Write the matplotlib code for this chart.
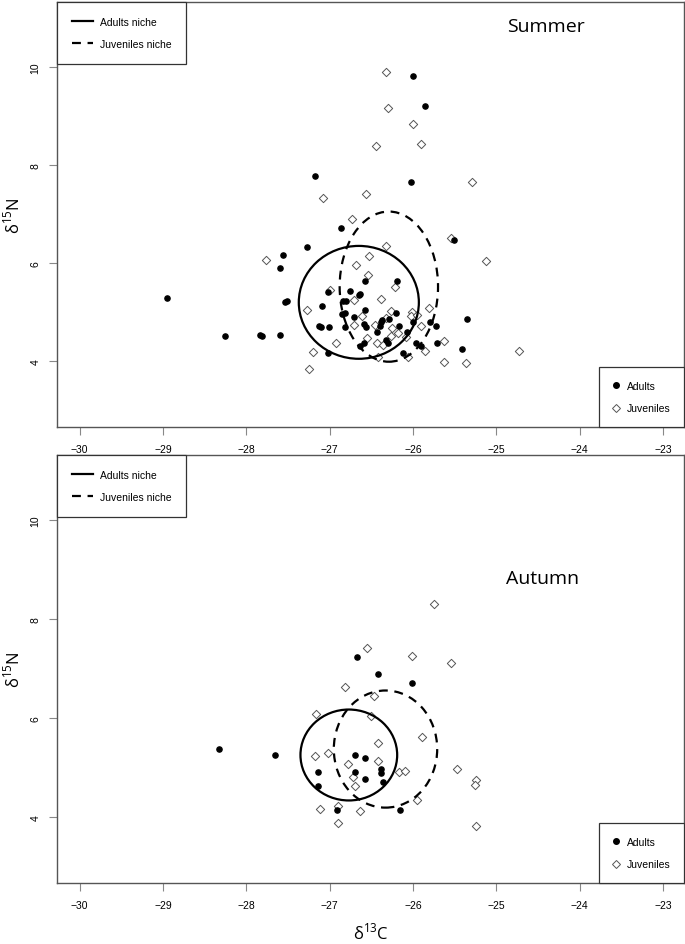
import matplotlib.pyplot as plt
from matplotlib.patches import Ellipse
from matplotlib.lines import Line2D

plt.rcParams['font.family'] = ['Liberation Sans', 'DejaVu Sans']
plt.rcParams['mathtext.fontset'] = 'custom'
plt.rcParams['mathtext.rm'] = 'Open Sans'

# Summer data (d13C, d15N)
summer_ad_x = [-28.95, -28.26, -27.84, -27.81, -27.60, -27.60, -27.56, -27.53, -27.51, -27.27,
               -26.86, -27.09, -27.02, -27.13, -27.10, -27.01, -27.02, -26.84, -26.80, -26.76,
               -26.85, -26.81, -26.82, -26.71, -26.65, -26.64, -26.57, -26.57, -26.59, -26.56,
               -26.64, -26.59, -26.43, -26.40, -26.38, -26.37, -26.29, -26.19, -26.20, -26.17,
               -26.33, -26.30, -26.12, -26.07, -26.00, -25.97, -25.90, -25.80, -25.73, -25.71,
               -25.51, -25.35, -25.41, -26.00, -25.86, -27.17, -26.02]
summer_ad_y = [5.28, 4.51, 4.54, 4.51, 4.54, 5.89, 6.16, 5.20, 5.22, 6.33,
               6.72, 5.12, 5.41, 4.72, 4.70, 4.70, 4.16, 5.22, 5.22, 5.44,
               4.96, 4.99, 4.69, 4.91, 5.35, 5.37, 5.64, 5.04, 4.76, 4.70,
               4.31, 4.37, 4.59, 4.72, 4.80, 4.84, 4.87, 5.64, 4.99, 4.71,
               4.43, 4.38, 4.16, 4.59, 4.79, 4.38, 4.31, 4.79, 4.71, 4.38,
               6.48, 4.86, 4.25, 9.81, 9.21, 7.78, 7.66]
summer_juv_x = [-26.33, -26.30, -26.00, -26.44, -25.91, -25.29, -27.08, -26.56, -26.73, -26.32,
                -25.55, -27.76, -26.53, -26.68, -26.54, -27.00, -26.22, -26.71, -26.39, -27.27,
                -26.61, -26.26, -26.32, -26.01, -26.03, -25.95, -25.81, -26.71, -26.46, -25.90,
                -26.25, -26.18, -26.26, -26.09, -26.55, -26.43, -26.36, -26.92, -27.20, -26.42,
                -26.06, -25.86, -25.63, -25.63, -25.37, -24.73, -25.12, -27.25]
summer_juv_y = [9.90, 9.15, 8.83, 8.38, 8.42, 7.66, 7.32, 7.40, 6.90, 6.34,
                6.52, 6.07, 6.14, 5.97, 5.75, 5.46, 5.51, 5.24, 5.26, 5.05,
                4.92, 5.02, 4.89, 5.01, 4.92, 4.94, 5.08, 4.73, 4.73, 4.71,
                4.67, 4.57, 4.51, 4.50, 4.48, 4.37, 4.33, 4.37, 4.18, 4.09,
                4.09, 4.21, 4.41, 3.99, 3.96, 4.21, 6.05, 3.84]

# Autumn data
autumn_ad_x = [-28.33, -27.65, -26.67, -26.42, -26.01, -26.69, -26.58, -27.14, -26.69, -26.39,
               -26.39, -26.57, -27.14, -26.36, -26.91, -26.16]
autumn_ad_y = [5.37, 5.25, 7.24, 6.88, 6.71, 5.26, 5.18, 4.90, 4.90, 4.97,
               4.89, 4.77, 4.62, 4.70, 4.14, 4.14]
autumn_juv_x = [-25.75, -26.55, -26.01, -25.54, -26.81, -26.47, -27.16, -26.50, -25.89, -26.42,
                -27.18, -27.02, -26.42, -26.78, -26.17, -26.10, -26.72, -26.69, -25.47, -25.25,
                -25.26, -25.95, -27.12, -26.90, -26.63, -26.90, -25.24]
autumn_juv_y = [8.31, 7.42, 7.25, 7.11, 6.63, 6.44, 6.08, 6.03, 5.62, 5.50,
                5.22, 5.30, 5.13, 5.07, 4.91, 4.93, 4.81, 4.62, 4.97, 4.75,
                4.65, 4.33, 4.16, 4.22, 4.12, 3.87, 3.81]

# niche ellipses: center x, center y, width, height
summer_ad_ell = (-26.65, 5.20, 1.44, 2.30)
summer_juv_ell = (-26.29, 5.52, 1.18, 3.06)
autumn_ad_ell = (-26.77, 5.25, 1.16, 1.84)
autumn_juv_ell = (-26.33, 5.37, 1.24, 2.37)

xticks = [-30, -29, -28, -27, -26, -25, -24, -23]
yticks = [4, 6, 8, 10]

fig = plt.figure(figsize=(6.85, 9.45), dpi=100)
ax1 = fig.add_axes([57/685, 1-428/945, 627/685, 425/945])
ax2 = fig.add_axes([57/685, 1-884/945, 627/685, 428/945])

panels = [
    (ax1, 'Summer', summer_ad_x, summer_ad_y, summer_juv_x, summer_juv_y,
     summer_ad_ell, summer_juv_ell, (0.78, 0.944)),
    (ax2, 'Autumn', autumn_ad_x, autumn_ad_y, autumn_juv_x, autumn_juv_y,
     autumn_ad_ell, autumn_juv_ell, (0.775, 0.713)),
]

for ax, name, ax_x, ax_y, jx, jy, e_ad, e_juv, tpos in panels:
    ax.scatter(jx, jy, marker='D', s=18, facecolor='white', edgecolor='#555555',
               linewidth=0.7, zorder=3)
    ax.scatter(ax_x, ax_y, marker='o', s=14, color='black', zorder=4)
    ax.add_patch(Ellipse(e_ad[:2], e_ad[2], e_ad[3], fill=False, color='black',
                         lw=1.6, zorder=5))
    ax.add_patch(Ellipse(e_juv[:2], e_juv[2], e_juv[3], fill=False, color='black',
                         lw=1.6, ls=(0, (4, 3)), zorder=5))
    ax.set_xlim(-30.27, -22.75)
    ax.set_ylim(2.66, 11.32)
    ax.set_xticks(xticks)
    ax.set_yticks(yticks)
    ax.tick_params(labelsize=7.5, length=6, color='#888888', pad=6)
    for lab in ax.get_yticklabels():
        lab.set_rotation(90)
        lab.set_va('center')
    for sp in ax.spines.values():
        sp.set_color('#555555')
        sp.set_linewidth(1.0)
    ax.text(tpos[0], tpos[1], name, transform=ax.transAxes, fontsize=14,
            family=['Open Sans', 'DejaVu Sans'], ha='center', va='center')
    ax.set_ylabel('δ$^{15}$N', fontsize=12, family=['Open Sans', 'DejaVu Sans'])
    ax.yaxis.set_label_coords(-0.054, 0.5)

    h1 = [Line2D([], [], color='black', lw=1.6),
          Line2D([], [], color='black', lw=1.6, ls=(0, (4, 3)))]
    leg1 = ax.legend(h1, ['Adults niche', 'Juveniles niche'], loc='upper left',
                     borderaxespad=0, fancybox=False, edgecolor='#333333',
                     fontsize=7.5, handlelength=2.1, borderpad=1.4,
                     labelspacing=1.2, handletextpad=0.6, framealpha=1)
    leg1.get_frame().set_linewidth(0.9)
    ax.add_artist(leg1)
    h2 = [Line2D([], [], color='black', marker='o', ls='none', markersize=4),
          Line2D([], [], color='#555555', marker='D', ls='none', markersize=4,
                 markerfacecolor='white', markeredgewidth=0.7)]
    leg2 = ax.legend(h2, ['Adults', 'Juveniles'], loc='lower right',
                     borderaxespad=0, fancybox=False, edgecolor='#333333',
                     fontsize=7.5, handlelength=0.8, borderpad=1.3,
                     labelspacing=1.2, framealpha=1, handletextpad=0.6)
    leg2.get_frame().set_linewidth(0.9)

ax2.set_xlabel('δ$^{13}$C', fontsize=12, family=['Open Sans', 'DejaVu Sans'],
               labelpad=9)

fig.savefig('out.png', dpi=100)
